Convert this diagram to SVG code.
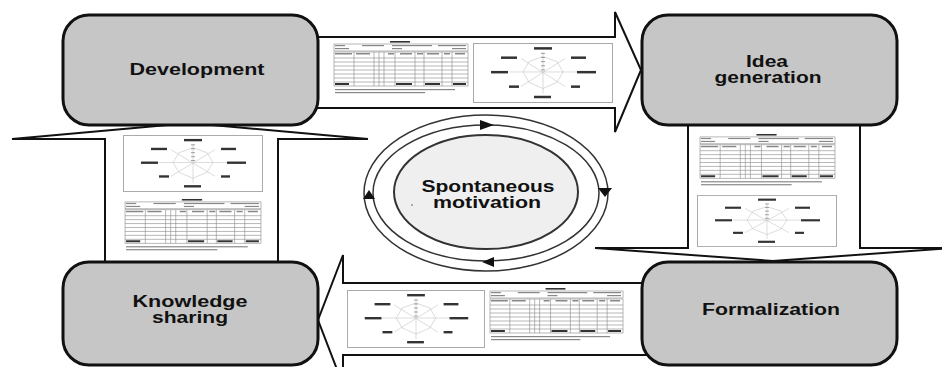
<svg xmlns="http://www.w3.org/2000/svg" xmlns:xlink="http://www.w3.org/1999/xlink" width="942" height="367" viewBox="0 0 942 367">
<style>
.box{fill:#c6c6c6;stroke:#111;stroke-width:3}
.arr{fill:#fff;stroke:#111;stroke-width:2;stroke-linejoin:miter}
.lbl{font-family:"Liberation Sans",Arial,sans-serif;font-weight:bold;font-size:16px;fill:#111;text-anchor:middle}
.ring{fill:none;stroke:#333;stroke-width:1.5}
.g{stroke:#888;stroke-width:0.6;fill:none}
.d{fill:#333}
.l{fill:#888}
</style>
<defs>
<symbol id="tbl" viewBox="0 0 138 60" preserveAspectRatio="none">
<rect x="0" y="0" width="138" height="60" fill="#fff"/>
<rect x="58" y="1" width="20" height="1.6" class="d"/>
<rect x="2" y="4" width="134" height="7" class="g"/>
<rect x="3" y="5" width="10" height="1.2" class="l"/><rect x="30" y="5" width="22" height="1.2" class="l"/><rect x="60" y="5" width="40" height="1.2" class="l"/><rect x="106" y="5" width="28" height="1.2" class="l"/>
<rect x="3" y="8" width="14" height="1.2" class="l"/><rect x="60" y="8" width="10" height="1.2" class="l"/><rect x="120" y="8" width="14" height="1.2" class="l"/>
<rect x="2" y="12" width="134" height="34" class="g" stroke="#666"/>
<rect x="3" y="13" width="17" height="1.5" class="l"/><rect x="24" y="13" width="14" height="1.5" class="l"/><rect x="56" y="13" width="6" height="1.5" class="l"/><rect x="68" y="13" width="12" height="1.5" class="l"/><rect x="85" y="13" width="6" height="1.5" class="l"/><rect x="95" y="13" width="12" height="1.5" class="l"/><rect x="112" y="13" width="6" height="1.5" class="l"/><rect x="123" y="13" width="10" height="1.5" class="l"/>
<path class="g" d="M2 18H136M2 22H136M2 26H136M2 30H136M2 34H136M2 38H136M2 42H136M22 12V46M42 12V46M47 12V46M52 12V46M63 12V46M83 12V46M92 12V46M110 12V46M120 12V46"/>
<rect x="3" y="43" width="14" height="2" class="d"/><rect x="64" y="43" width="16" height="2" class="d"/><rect x="93" y="43" width="15" height="2" class="d"/><rect x="121" y="43" width="13" height="2" class="d"/>
<rect x="3" y="49" width="120" height="1.2" class="l"/><rect x="3" y="52" width="90" height="1.2" class="l"/>
</symbol>
<symbol id="chart" viewBox="0 0 140 58" preserveAspectRatio="none">
<rect x="0.5" y="0.5" width="139" height="57" fill="#fff" stroke="#aaa" stroke-width="1"/>
<path d="M70 9V49M48 15L92 42M92 15L48 42M36 28H104" stroke="#c4c4c4" stroke-width="0.6" fill="none"/>
<polygon points="70,13 84,18 90,28 84,38 70,44 56,38 50,28 56,18" fill="none" stroke="#c4c4c4" stroke-width="0.6"/>
<path d="M68 10H72M68 14H72M68 18H72M68 22H72M68 26H72" stroke="#888" stroke-width="0.8"/>
<rect x="61" y="4" width="18" height="2.4" class="d"/>
<rect x="28" y="13" width="16" height="2.4" class="d"/>
<rect x="98" y="13" width="15" height="2.4" class="d"/>
<rect x="18" y="27" width="17" height="2.4" class="d"/>
<rect x="104" y="27" width="19" height="2.4" class="d"/>
<rect x="36" y="41" width="10" height="2.4" class="d"/>
<rect x="98" y="41" width="9" height="2.4" class="d"/>
<rect x="61" y="51" width="17" height="2.4" class="d"/>
</symbol>
</defs>
<rect width="942" height="367" fill="#fff"/>
<g id="connectors">
<polygon class="arr" points="300,37 615,37 615,12 641,70 615,132 615,108 300,108"/>
<polygon class="arr" points="105,290 105,139 12,139 190,123 368,139 278,139 278,290"/>
<polygon class="arr" points="688,110 860,110 860,248 951,248 773,261 595,248 688,248"/>
<polygon class="arr" points="660,283 343,283 343,255 318,320 343,385 343,355 660,355"/>
<g id="documents">
<use xlink:href="#tbl" x="332" y="40" width="138" height="60"/>
<use xlink:href="#chart" x="473" y="43" width="140" height="60"/>
<use xlink:href="#chart" x="123" y="135" width="140" height="57"/>
<use xlink:href="#tbl" x="123" y="198" width="140" height="59"/>
<use xlink:href="#tbl" x="698" y="133" width="139" height="59"/>
<use xlink:href="#chart" x="697" y="195" width="140" height="52"/>
<use xlink:href="#chart" x="347" y="290" width="138" height="58"/>
<use xlink:href="#tbl" x="488" y="287" width="137" height="60"/>
</g>
</g>
<g id="cycle">
<ellipse class="ring" cx="486" cy="193" rx="122" ry="78" fill="#fff"/>
<ellipse class="ring" cx="486" cy="193" rx="113" ry="68"/>
<ellipse cx="486" cy="192" rx="92" ry="57" fill="#efefef" stroke="#333" stroke-width="2"/>
<polygon points="480,120 494,125 480,130" fill="#111"/>
<polygon points="598,188 612,188 605,197" fill="#111"/>
<polygon points="494,257 482,262 494,267" fill="#111"/>
<polygon points="369,190 363,199 375,199" fill="#111"/>
<circle cx="412" cy="205" r="1" fill="#999"/>
<text class="lbl" x="488" y="192" textLength="133" lengthAdjust="spacingAndGlyphs">Spontaneous</text>
<text class="lbl" x="487" y="208" textLength="108" lengthAdjust="spacingAndGlyphs">motivation</text>
</g>
<g id="development">
<rect class="box" x="63" y="15" width="255" height="110" rx="26"/>
<text class="lbl" x="197" y="75" textLength="135" lengthAdjust="spacingAndGlyphs">Development</text>
</g>
<g id="idea-generation">
<rect class="box" x="642" y="15" width="255" height="110" rx="26"/>
<text class="lbl" x="767" y="67" textLength="42" lengthAdjust="spacingAndGlyphs">Idea</text>
<text class="lbl" x="768" y="83" textLength="107" lengthAdjust="spacingAndGlyphs">generation</text>
</g>
<g id="knowledge-sharing">
<rect class="box" x="63" y="262" width="255" height="103" rx="26"/>
<text class="lbl" x="190" y="307" textLength="115" lengthAdjust="spacingAndGlyphs">Knowledge</text>
<text class="lbl" x="190" y="323" textLength="76" lengthAdjust="spacingAndGlyphs">sharing</text>
</g>
<g id="formalization">
<rect class="box" x="642" y="262" width="255" height="103" rx="26"/>
<text class="lbl" x="771" y="315" textLength="138" lengthAdjust="spacingAndGlyphs">Formalization</text>
</g>
</svg>
